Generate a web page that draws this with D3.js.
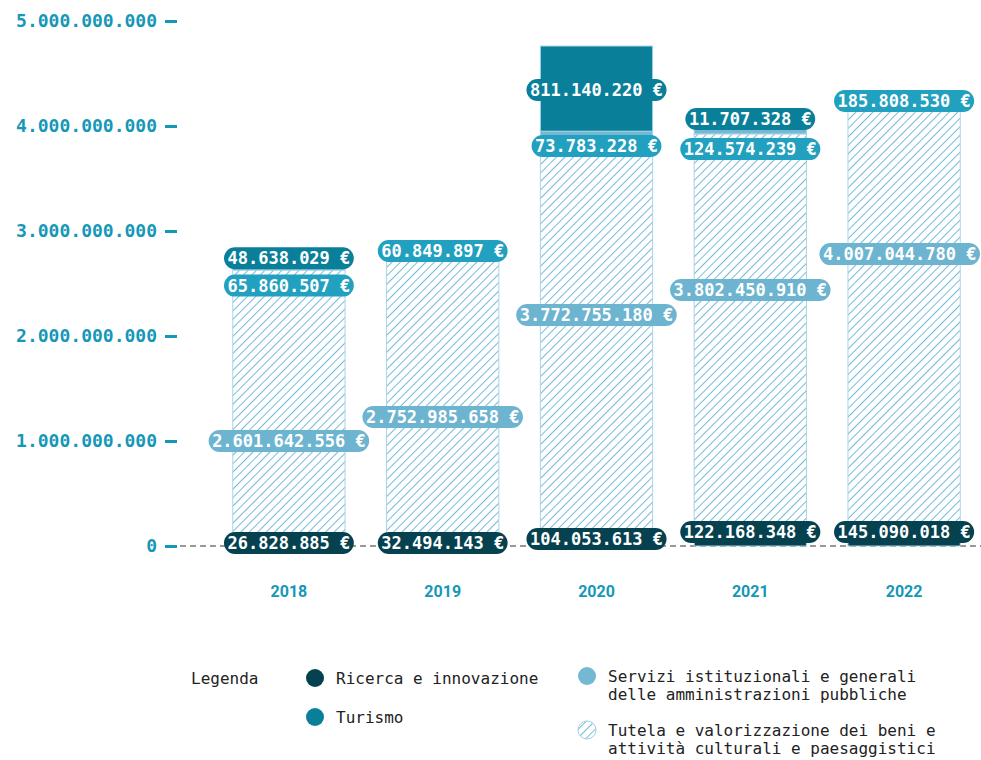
<!DOCTYPE html>
<html>
<head>
<meta charset="utf-8">
<script src="https://cdn.jsdelivr.net/npm/d3@7"></script>
<style>
  body { margin: 0; background: #fff; }
  svg { display: block; }
  .mono { font-family: "DejaVu Sans Mono", "Liberation Mono", monospace; }
</style>
</head>
<body>
<script>
// data
const years = ['2018', '2019', '2020', '2021', '2022'];
const ricerca = [26828885, 32494143, 104053613, 122168348, 145090018];
const tutela = [2601642556, 2752985658, 3772755180, 3802450910, 4007044780];
const servizi = [65860507, 60849897, 73783228, 124574239, 185808530];
const turismo = [48638029, 0, 811140220, 11707328, 0];
const yTicks = [0, 1e9, 2e9, 3e9, 4e9, 5e9];

// where each value label sits (in euro)
const ricercaLabelAt = [0.029e9, 0.029e9, 0.067e9, 0.133e9, 0.133e9];
const tutelaLabelAt = [1.0e9, 1.229e9, 2.2e9, 2.438e9, 2.78e9];
const serviziLabelAt = [2.48e9, 2.81e9, 3.81e9, 3.78e9, 4.238e9];
const turismoLabelAt = [2.74e9, null, 4.343e9, 4.067e9, null];

const width = 981, height = 760;
const cAxis = '#1597b7';

const svg = d3.select('body').append('svg')
  .attr('width', width)
  .attr('height', height);

// hatch pattern
const defs = svg.append('defs');
defs.append('pattern')
  .attr('id', 'hatch')
  .attr('patternUnits', 'userSpaceOnUse')
  .attr('width', 6).attr('height', 6)
  .attr('patternTransform', 'rotate(45)')
  .append('line')
  .attr('x1', 0).attr('y1', 0).attr('x2', 0).attr('y2', 6)
  .attr('stroke', '#76bbd7').attr('stroke-width', 2);

const x = d3.scaleBand()
  .domain(years)
  .range([212, 981])
  .paddingInner(0.27)
  .paddingOuter(0.135);

const y = d3.scaleLinear()
  .domain([0, 5e9])
  .range([546, 21]);

const fmt = d3.formatLocale({decimal: ',', thousands: '.', grouping: [3], currency: ['', '']}).format(',d');

// baseline
svg.append('line')
  .attr('x1', 180).attr('x2', width)
  .attr('y1', y(0)).attr('y2', y(0))
  .attr('stroke', '#333').attr('stroke-width', 1.2)
  .attr('stroke-dasharray', '6,4');

// y axis
const yAxis = d3.axisLeft(y)
  .tickValues(yTicks)
  .tickSize(12)
  .tickPadding(8)
  .tickFormat(d => fmt(d));

const gy = svg.append('g')
  .attr('transform', 'translate(177,0)')
  .call(yAxis);
gy.select('.domain').remove();
gy.selectAll('.tick line').attr('stroke', cAxis).attr('stroke-width', 3);
gy.selectAll('.tick text')
  .attr('class', 'mono')
  .attr('fill', cAxis)
  .style('font-size', '18px')
  .style('font-weight', 'bold');

// x axis labels
const xAxis = d3.axisBottom(x).tickSize(0).tickPadding(0);
const gx = svg.append('g')
  .attr('transform', 'translate(0,586)')
  .call(xAxis);
gx.select('.domain').remove();
gx.selectAll('.tick text')
  .attr('fill', cAxis)
  .style('font-family', 'Roboto, "Open Sans", sans-serif')
  .style('font-size', '16px')
  .style('font-weight', 'bold');

// stacked series, bottom to top
const series = [
  {name: 'ricerca', values: ricerca, fill: '#05414f', label: '#05414f', at: ricercaLabelAt},
  {name: 'tutela', values: tutela, fill: 'url(#hatch)', label: '#6db4d0', at: tutelaLabelAt},
  {name: 'servizi', values: servizi, fill: '#74b8d4', label: '#22a0c0', at: serviziLabelAt},
  {name: 'turismo', values: turismo, fill: '#0a7f9a', label: '#0a7f9a', at: turismoLabelAt}
];

const rows = years.map((yr, i) => {
  const r = {year: yr};
  series.forEach(s => r[s.name] = s.values[i]);
  return r;
});
const stack = d3.stack().keys(series.map(s => s.name))(rows);

const bars = svg.append('g');
stack.forEach((layer, li) => {
  bars.selectAll(null)
    .data(layer)
    .enter()
    .append('rect')
    .attr('x', d => x(d.data.year))
    .attr('width', x.bandwidth())
    .attr('y', d => y(d[1]))
    .attr('height', d => y(d[0]) - y(d[1]))
    .attr('fill', series[li].fill)
    .attr('stroke', d => (d[1] - d[0]) > 0 ? '#a8d4e6' : 'none')
    .attr('stroke-width', 1);
});

// value labels
const labels = svg.append('g');
series.forEach(s => {
  years.forEach((yr, i) => {
    if (!s.values[i] || s.at[i] == null) return;
    const g = labels.append('g');
    const pill = g.append('rect').attr('fill', s.label);
    const t = g.append('text')
      .attr('class', 'mono')
      .attr('text-anchor', 'middle')
      .attr('dy', '0.36em')
      .attr('fill', '#fff')
      .style('font-size', '17px')
      .style('font-weight', 'bold')
      .text(fmt(s.values[i]) + ' €');
    const w = t.node().getComputedTextLength() + 7;
    pill.attr('x', -w / 2).attr('y', -11)
      .attr('width', w).attr('height', 22)
      .attr('rx', 11);
    // keep the pill inside the picture
    const cx = Math.min(x(yr) + x.bandwidth() / 2, width - 1 - w / 2);
    g.attr('transform', `translate(${cx},${y(s.at[i])})`);
  });
});

// legend
const legend = svg.append('g').attr('class', 'mono').style('font-size', '16px').attr('fill', '#222');
legend.append('text').attr('x', 191).attr('y', 684).text('Legenda');

const legendItems = [
  {x: 315, y: 678, fill: '#05414f', lines: ['Ricerca e innovazione']},
  {x: 315, y: 717, fill: '#0a7f9a', lines: ['Turismo']},
  {x: 587, y: 676, fill: '#74b8d4', lines: ['Servizi istituzionali e generali', 'delle amministrazioni pubbliche']},
  {x: 587, y: 730, fill: 'url(#hatch)', lines: ['Tutela e valorizzazione dei beni e', 'attività culturali e paesaggistici']}
];
legendItems.forEach(it => {
  legend.append('circle')
    .attr('cx', it.x).attr('cy', it.y).attr('r', 9)
    .attr('fill', it.fill)
    .attr('stroke', it.fill.startsWith('url') ? '#9fcfe3' : 'none');
  const t = legend.append('text').attr('x', it.x + 21).attr('y', it.y + 6);
  it.lines.forEach((l, k) => {
    t.append('tspan').attr('x', it.x + 21).attr('dy', k ? 18 : 0).text(l);
  });
});
</script>
</body>
</html>
